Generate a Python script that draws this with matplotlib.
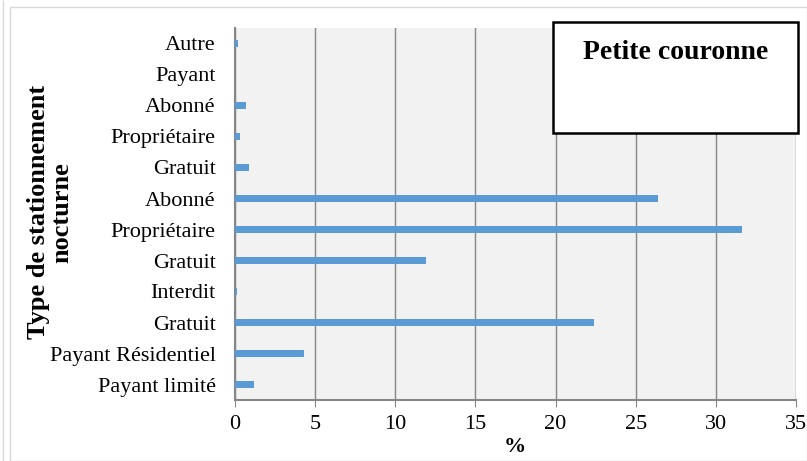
"""Petite couronne: type de stationnement nocturne (barres horizontales)."""

import matplotlib

matplotlib.use("Agg")
import matplotlib.pyplot as plt
from matplotlib.patches import Rectangle

# bas -> haut
categories = [
    "Payant limité", "Payant Résidentiel", "Gratuit", "Interdit", "Gratuit",
    "Propriétaire", "Abonné", "Gratuit", "Propriétaire", "Abonné", "Payant", "Autre",
]
values = [1.2, 4.3, 22.4, 0.1, 11.9, 31.6, 26.4, 0.9, 0.3, 0.7, 0.0, 0.2]
xticks = [0, 5, 10, 15, 20, 25, 30, 35]

plt.rcParams["font.family"] = ["Liberation Serif", "DejaVu Serif"]

fig = plt.figure(figsize=(8.07, 4.61), dpi=100)
# cadre du graphique
fig.patches.append(Rectangle((10 / 807, 0), 797 / 807, 454 / 461, transform=fig.transFigure,
                             fill=False, edgecolor="#d9d9d9", lw=1))
fig.patches.append(Rectangle((3 / 807, 0), 0, 1, transform=fig.transFigure,
                             fill=False, edgecolor="#d9d9d9", lw=1))
ax = fig.add_axes([235 / 807, 61 / 461, 561 / 807, 372 / 461])
ax.set_facecolor("#f2f2f2")

ypos = range(len(categories))
ax.barh(ypos, values, height=0.2, color="#5b9bd5", zorder=3)

ax.set_xlim(0, 35)
ax.set_ylim(-0.5, len(categories) - 0.5)
ax.set_xticks(xticks)
ax.set_xticklabels([str(t) for t in xticks], fontsize=16)
ax.set_yticks(list(ypos))
ax.set_yticklabels(categories, fontsize=16)
ax.tick_params(axis="y", length=0, pad=14)
ax.tick_params(axis="x", length=5, color="#868686", pad=6)
ax.xaxis.grid(True, color="#868686", lw=1, zorder=1)
ax.set_axisbelow(True)

for side in ("top", "right"):
    ax.spines[side].set_visible(False)
for side in ("left", "bottom"):
    ax.spines[side].set_color("#868686")
    ax.spines[side].set_linewidth(1.5)

ax.set_xlabel("%", fontsize=16, fontweight="bold")
ax.xaxis.set_label_coords((515 - 235) / 561, -(447 - 400) / 372)
ax.xaxis.label.set_va("center")
ax.set_ylabel("Type de stationnement\nnocturne", fontsize=19, fontweight="bold",
              linespacing=1.05)
ax.yaxis.set_label_coords((50 - 235) / 561, 0.505)
ax.yaxis.label.set_va("center")

# encadré titre
ax.add_patch(Rectangle((0.567, 0.718), 0.436, 0.298, transform=ax.transAxes,
                       facecolor="white", edgecolor="black", lw=1.8, zorder=5,
                       clip_on=False))
ax.text(0.785, 0.935, "Petite couronne", transform=ax.transAxes, ha="center",
        va="center", fontsize=20, fontweight="bold", zorder=6)

fig.savefig("out.png", dpi=100)
